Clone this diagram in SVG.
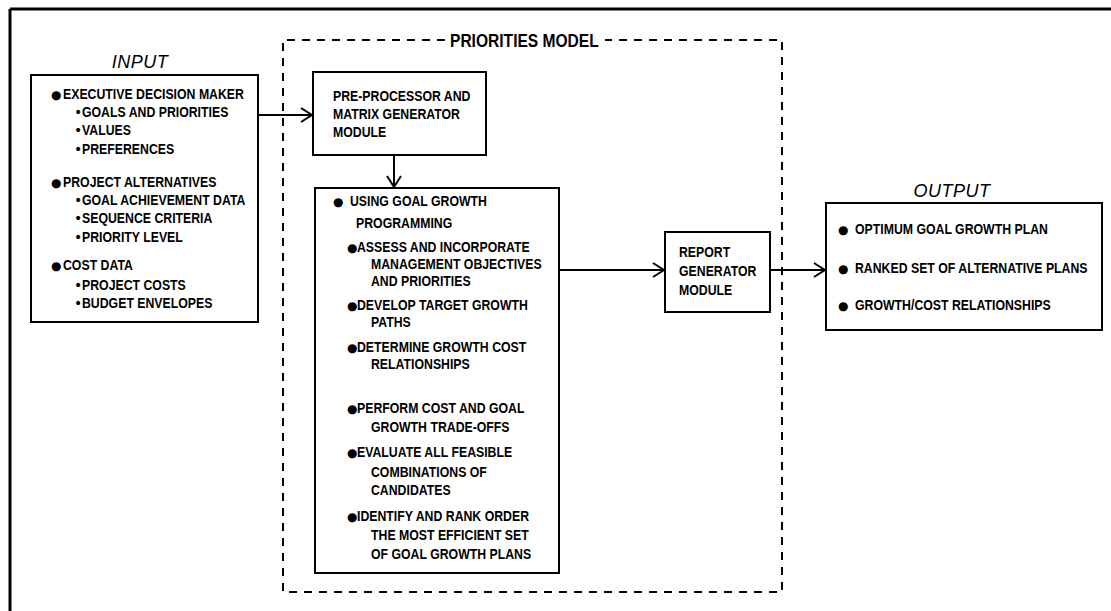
<svg xmlns="http://www.w3.org/2000/svg" width="1111" height="611" viewBox="0 0 1111 611">
<style>
  .frame{fill:none;stroke:#000;stroke-width:3}
  .box{fill:#fff;stroke:#000;stroke-width:2}
  .dash{fill:none;stroke:#000;stroke-width:2;stroke-dasharray:8 7}
  .conn{fill:none;stroke:#000;stroke-width:2}
  .t{font-family:"Liberation Sans",Arial,sans-serif;font-weight:bold;font-size:15px;fill:#000}
  .big{font-size:19px}
  .hd{font-family:"Liberation Sans",Arial,sans-serif;font-style:italic;font-size:18px;fill:#000;letter-spacing:0.5px}
  .b{font-family:"DejaVu Sans",sans-serif;font-size:12px;fill:#000}
  .sb{font-family:"DejaVu Sans",sans-serif;font-size:14px;fill:#000}
</style>
<defs>
  <marker id="arr" markerWidth="14" markerHeight="16" refX="12" refY="8" orient="auto" markerUnits="userSpaceOnUse">
    <path d="M1,1 L12,8 L1,15" fill="none" stroke="#000" stroke-width="2"/>
  </marker>
</defs>
<rect width="1111" height="611" fill="#fff"/>
<path class="frame" d="M10,9 H1111 M10,9 V611"/>

<g id="priorities-model">
  <path class="dash" d="M445,40 H283 V592 H782 V40 H605"/>
  <text class="t big" transform="translate(450,47) scale(0.82,1)">PRIORITIES MODEL</text>
</g>

<g id="input">
  <text class="hd" x="140" y="68" text-anchor="middle">INPUT</text>
  <rect class="box" x="31" y="75" width="227" height="247"/>
  <text class="b" x="51" y="99">●</text><text class="t" transform="translate(63,99) scale(0.82,1)">EXECUTIVE DECISION MAKER</text>
  <text class="sb" x="74" y="117">•</text><text class="t" transform="translate(82,117) scale(0.82,1)">GOALS AND PRIORITIES</text>
  <text class="sb" x="74" y="135">•</text><text class="t" transform="translate(82,135) scale(0.82,1)">VALUES</text>
  <text class="sb" x="74" y="154">•</text><text class="t" transform="translate(82,154) scale(0.82,1)">PREFERENCES</text>
  <text class="b" x="51" y="187">●</text><text class="t" transform="translate(63,187) scale(0.82,1)">PROJECT ALTERNATIVES</text>
  <text class="sb" x="74" y="205">•</text><text class="t" transform="translate(82,205) scale(0.82,1)">GOAL ACHIEVEMENT DATA</text>
  <text class="sb" x="74" y="223">•</text><text class="t" transform="translate(82,223) scale(0.82,1)">SEQUENCE CRITERIA</text>
  <text class="sb" x="74" y="242">•</text><text class="t" transform="translate(82,242) scale(0.82,1)">PRIORITY LEVEL</text>
  <text class="b" x="51" y="270">●</text><text class="t" transform="translate(63,270) scale(0.82,1)">COST DATA</text>
  <text class="sb" x="74" y="290">•</text><text class="t" transform="translate(82,290) scale(0.82,1)">PROJECT COSTS</text>
  <text class="sb" x="74" y="308">•</text><text class="t" transform="translate(82,308) scale(0.82,1)">BUDGET ENVELOPES</text>
</g>

<g id="preprocessor">
  <rect class="box" x="313" y="72" width="173" height="83"/>
  <text class="t" transform="translate(333,101) scale(0.82,1)">PRE-PROCESSOR AND</text>
  <text class="t" transform="translate(333,119) scale(0.82,1)">MATRIX GENERATOR</text>
  <text class="t" transform="translate(333,137) scale(0.82,1)">MODULE</text>
</g>

<g id="goal-growth">
  <rect class="box" x="315" y="188" width="244" height="385"/>
  <text class="b" x="333" y="206">●</text><text class="t" transform="translate(350,206) scale(0.82,1)">USING GOAL GROWTH</text>
  <text class="t" transform="translate(356,228) scale(0.82,1)">PROGRAMMING</text>
  <text class="b" x="347" y="252">●</text><text class="t" transform="translate(357,252) scale(0.82,1)">ASSESS AND INCORPORATE</text>
  <text class="t" transform="translate(371,269) scale(0.82,1)">MANAGEMENT OBJECTIVES</text>
  <text class="t" transform="translate(371,286) scale(0.82,1)">AND PRIORITIES</text>
  <text class="b" x="347" y="310">●</text><text class="t" transform="translate(357,310) scale(0.82,1)">DEVELOP TARGET GROWTH</text>
  <text class="t" transform="translate(371,327) scale(0.82,1)">PATHS</text>
  <text class="b" x="347" y="352">●</text><text class="t" transform="translate(357,352) scale(0.82,1)">DETERMINE GROWTH COST</text>
  <text class="t" transform="translate(371,369) scale(0.82,1)">RELATIONSHIPS</text>
  <text class="b" x="347" y="413">●</text><text class="t" transform="translate(357,413) scale(0.82,1)">PERFORM COST AND GOAL</text>
  <text class="t" transform="translate(371,432) scale(0.82,1)">GROWTH TRADE-OFFS</text>
  <text class="b" x="347" y="457">●</text><text class="t" transform="translate(357,457) scale(0.82,1)">EVALUATE ALL FEASIBLE</text>
  <text class="t" transform="translate(371,477) scale(0.82,1)">COMBINATIONS OF</text>
  <text class="t" transform="translate(371,495) scale(0.82,1)">CANDIDATES</text>
  <text class="b" x="347" y="521">●</text><text class="t" transform="translate(357,521) scale(0.82,1)">IDENTIFY AND RANK ORDER</text>
  <text class="t" transform="translate(371,540) scale(0.82,1)">THE MOST EFFICIENT SET</text>
  <text class="t" transform="translate(371,559) scale(0.82,1)">OF GOAL GROWTH PLANS</text>
</g>

<g id="report">
  <rect class="box" x="665" y="232" width="105" height="80"/>
  <text class="t" transform="translate(679,257) scale(0.82,1)">REPORT</text>
  <text class="t" transform="translate(679,276) scale(0.82,1)">GENERATOR</text>
  <text class="t" transform="translate(679,295) scale(0.82,1)">MODULE</text>
</g>

<g id="output">
  <text class="hd" x="952" y="197" text-anchor="middle">OUTPUT</text>
  <rect class="box" x="826" y="203" width="276" height="127"/>
  <text class="b" x="838" y="234">●</text><text class="t" transform="translate(855,234) scale(0.82,1)">OPTIMUM GOAL GROWTH PLAN</text>
  <text class="b" x="838" y="273">●</text><text class="t" transform="translate(855,273) scale(0.82,1)">RANKED SET OF ALTERNATIVE PLANS</text>
  <text class="b" x="838" y="310">●</text><text class="t" transform="translate(855,310) scale(0.82,1)">GROWTH/COST RELATIONSHIPS</text>
</g>

<g id="connectors">
  <path class="conn" d="M258,115 H312" marker-end="url(#arr)"/>
  <path class="conn" d="M394,155 V187" marker-end="url(#arr)"/>
  <path class="conn" d="M559,270 H664" marker-end="url(#arr)"/>
  <path class="conn" d="M770,270 H825" marker-end="url(#arr)"/>
</g>
</svg>
